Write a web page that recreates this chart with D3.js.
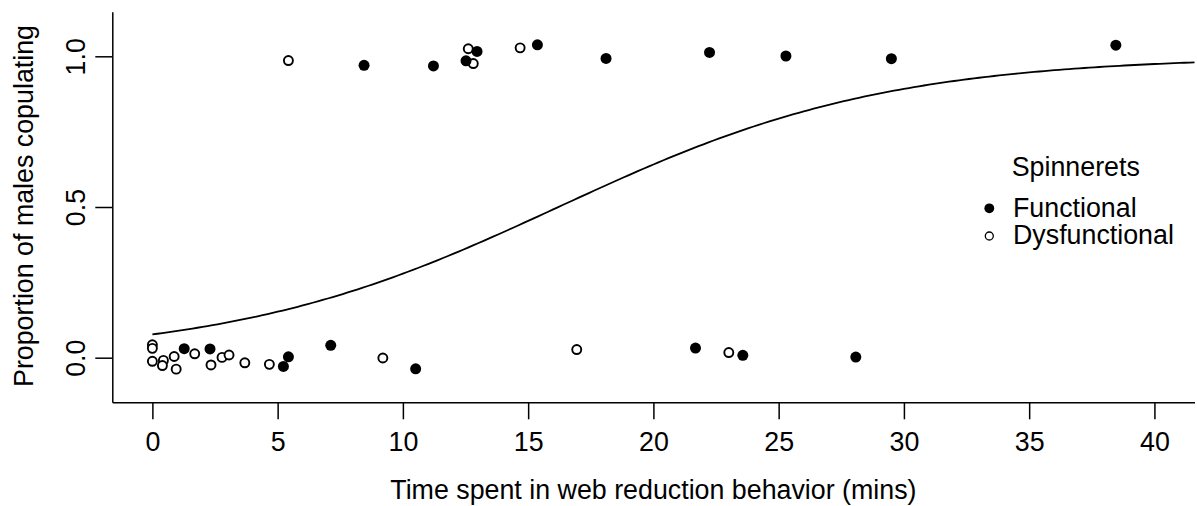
<!DOCTYPE html>
<html>
<head>
<meta charset="utf-8">
<script src="https://cdn.jsdelivr.net/npm/d3@7"></script>
<style>
  html, body { margin: 0; padding: 0; background: #fff; }
  svg { display: block; }
  text { font-family: "Liberation Sans", Arial, sans-serif; fill: #000; }
</style>
</head>
<body>
<svg id="chart" width="1197" height="506"></svg>
<script>
// ---- data ----
const functionalX = [1.27, 2.30, 5.23, 5.43, 7.12, 10.51, 21.68, 23.57, 28.08,
                     8.45, 11.22, 12.52, 12.96, 15.37, 18.11, 22.24, 25.29, 29.50, 38.46];
const functionalY = [0.030, 0.029, -0.029, 0.003, 0.041, -0.037, 0.032, 0.008, 0.002,
                     0.970, 0.968, 0.985, 1.016, 1.038, 0.993, 1.013, 1.001, 0.992, 1.037];
const dysfunctionalX = [0, 0, 0, 0.44, 0.40, 0.87, 0.95, 1.69, 2.34, 2.78, 3.06, 3.69, 4.67, 9.20, 16.94, 23.01,
                        5.43, 12.61, 12.81, 14.68];
const dysfunctionalY = [0.043, 0.031, -0.012, -0.009, -0.026, 0.004, -0.038, 0.013, -0.024, 0.001, 0.009, -0.017, -0.022, -0.001, 0.027, 0.017,
                        0.986, 1.025, 0.976, 1.028];
const xTicks = [0, 5, 10, 15, 20, 25, 30, 35, 40];
const yTicks = [0.0, 0.5, 1.0];
const yTickLabels = ["0.0", "0.5", "1.0"];
const fitIntercept = -2.48;   // fitted logistic curve
const fitSlope = 0.153;
const legendTitle = "Spinnerets";
const legendLabels = ["Functional", "Dysfunctional"];
const xTitle = "Time spent in web reduction behavior (mins)";
const yTitle = "Proportion of males copulating";

// ---- layout ----
const svg = d3.select("#chart");
const plotL = 112.3, plotR = 1194.5, plotT = 11.7, plotB = 402.3;
const x = d3.scaleLinear().domain([-1.6, 41.6]).range([plotL, plotR]);
const y = d3.scaleLinear().domain([-0.148, 1.148]).range([plotB, plotT]);
const FS = 26.8;

// axes
const xAxis = svg.append("g").attr("transform", `translate(0,${plotB})`)
  .call(d3.axisBottom(x).tickValues(xTicks).tickSize(17).tickSizeOuter(0).tickFormat(d3.format("d")));
xAxis.selectAll("text").attr("y", 49.2).attr("dy", 0).style("font-size", FS + "px");
xAxis.selectAll("line, path").attr("stroke", "#000").attr("stroke-width", 1.5);

const yAxis = svg.append("g").attr("transform", `translate(${plotL},0)`)
  .call(d3.axisLeft(y).tickValues(yTicks).tickSize(17).tickSizeOuter(0).tickFormat((d, i) => yTickLabels[i]));
yAxis.selectAll("text")
  .attr("x", 0).attr("y", 0).attr("dy", 0)
  .attr("text-anchor", "middle")
  .attr("transform", `translate(${84.5 - plotL},0) rotate(-90)`)
  .style("font-size", FS + "px");
yAxis.selectAll("line, path").attr("stroke", "#000").attr("stroke-width", 1.5);
svg.selectAll(".domain").attr("fill", "none");
svg.selectAll(".tick text").attr("font-family", null).attr("font-size", null);

// titles
svg.append("text").attr("x", (plotL + plotR) / 2).attr("y", 498.5)
  .attr("text-anchor", "middle").style("font-size", FS + "px").text(xTitle);
svg.append("text").attr("transform", `translate(33,${(plotT + plotB) / 2 - 1}) rotate(-90)`)
  .attr("text-anchor", "middle").style("font-size", FS + "px").text(yTitle);

// fitted curve
const curveXs = d3.range(0, 41.6 + 1e-9, 0.2);
const line = d3.line()
  .x(d => x(d))
  .y(d => y(1 / (1 + Math.exp(-(fitIntercept + fitSlope * d)))));
svg.append("path").datum(curveXs).attr("d", line)
  .attr("fill", "none").attr("stroke", "#000").attr("stroke-width", 1.8);

// points
svg.append("g").selectAll("circle").data(dysfunctionalX.map((v, i) => [v, dysfunctionalY[i]]))
  .join("circle")
  .attr("cx", d => x(d[0])).attr("cy", d => y(d[1])).attr("r", 4.5)
  .attr("fill", "#fff").attr("stroke", "#000").attr("stroke-width", 1.9);
svg.append("g").selectAll("circle").data(functionalX.map((v, i) => [v, functionalY[i]]))
  .join("circle")
  .attr("cx", d => x(d[0])).attr("cy", d => y(d[1])).attr("r", 5.5)
  .attr("fill", "#000");

// legend
const lg = svg.append("g");
lg.append("text").attr("x", 1011.7).attr("y", 175.5).style("font-size", FS + "px").text(legendTitle);
lg.append("circle").attr("cx", 989.3).attr("cy", 208.3).attr("r", 4.9).attr("fill", "#000");
lg.append("text").attr("x", 1013).attr("y", 216.5).style("font-size", FS + "px").text(legendLabels[0]);
lg.append("circle").attr("cx", 989.3).attr("cy", 236).attr("r", 4.0)
  .attr("fill", "#fff").attr("stroke", "#000").attr("stroke-width", 1.3);
lg.append("text").attr("x", 1013).attr("y", 244.3).style("font-size", FS + "px").text(legendLabels[1]);
</script>
</body>
</html>
